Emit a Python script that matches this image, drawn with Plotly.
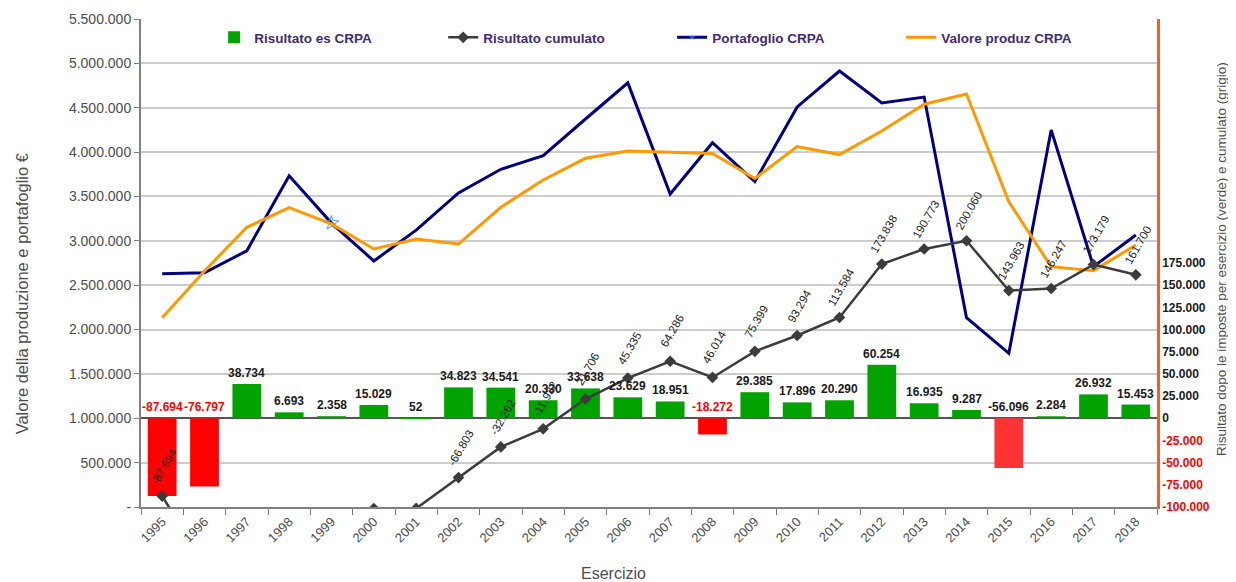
import plotly.graph_objects as go

years = ["1995", "1996", "1997", "1998", "1999", "2000", "2001", "2002", "2003", "2004", "2005", "2006",
         "2007", "2008", "2009", "2010", "2011", "2012", "2013", "2014", "2015", "2016", "2017", "2018"]
risultato = [-87694, -76797, 38734, 6693, 2358, 15029, 52, 34823, 34541, 20330, 33638, 23629,
             18951, -18272, 29385, 17896, 20290, 60254, 16935, 9287, -56096, 2284, 26932, 15453]
cumulato = [-87694, -164491, -125757, -119064, -116706, -101677, -101625, -66803, -32262, -11932, 21706, 45335,
            64286, 46014, 75399, 93294, 113584, 173838, 190773, 200060, 143963, 146247, 173179, 161700]
portafoglio = [2630000, 2640000, 2888000, 3734000, 3200000, 2773000, 3120000, 3540000, 3806000, 3960000,
               4373000, 4780000, 3528000, 4106000, 3667000, 4509000, 4914000, 4554000, 4620000, 2134000,
               1732000, 4250000, 2709000, 3066000]
valore = [2134000, 2660000, 3152000, 3374000, 3190000, 2908000, 3020000, 2964000, 3378000, 3686000,
          3930000, 4012000, 3997000, 3985000, 3703000, 4062000, 3972000, 4238000, 4540000, 4655000,
          3440000, 2709000, 2664000, 2953000]

left_ticks = [0, 500000, 1000000, 1500000, 2000000, 2500000, 3000000, 3500000, 4000000, 4500000, 5000000, 5500000]
right_ticks = [-100000, -75000, -50000, -25000, 0, 25000, 50000, 75000, 100000, 125000, 150000, 175000]

FONT = "Liberation Sans, Arial, sans-serif"
GREEN = "#00A300"
RED = "#FF0000"


def fmt(v):
    s = f"{abs(v):,}".replace(",", ".")
    return "-" + s if v < 0 else s


fig = go.Figure()

pos = [v if v >= 0 else None for v in risultato]
neg = [v if v < 0 else None for v in risultato]
neg_colors = ["#FF3333" if y == "2015" else RED for y in years]

fig.add_trace(go.Bar(x=years, y=pos, name="Risultato es CRPA", marker=dict(color=GREEN, line=dict(width=0)),
                     width=0.68, yaxis="y2"))
fig.add_trace(go.Bar(x=years, y=neg, name="neg", showlegend=False,
                     marker=dict(color=neg_colors, line=dict(width=0)), width=0.68, yaxis="y2"))
fig.add_trace(go.Scatter(x=years, y=cumulato, name="Risultato cumulato", mode="lines+markers",
                         line=dict(color="#3C3C3C", width=2.5),
                         marker=dict(symbol="diamond", size=9, color="#3C3C3C"), yaxis="y2"))
star_sizes = [11 if y == "1999" else 0 for y in years]
fig.add_trace(go.Scatter(x=years, y=portafoglio, name="Portafoglio CRPA", mode="lines+markers",
                         line=dict(color="#000080", width=3),
                         marker=dict(symbol="star-open", size=star_sizes, color="#3A8EE6",
                                     line=dict(width=1.2, color="#3A8EE6"))))
fig.add_trace(go.Scatter(x=years, y=valore, name="Valore produz CRPA", mode="lines",
                         line=dict(color="#FF9900", width=3)))

annotations = []
# bar value labels
for i, (y, v) in enumerate(zip(years, risultato)):
    col = RED if (v < 0 and y != "2015") else "#1A1A1A"
    annotations.append(dict(x=i, y=max(v, 0), xref="x", yref="y2", text="<b>" + fmt(v) + "</b>",
                            showarrow=False, yanchor="bottom", yshift=2,
                            font=dict(family=FONT, size=12, color=col)))
# cumulative labels (only for visible points)
for i, v in enumerate(cumulato):
    if v >= -100000:
        annotations.append(dict(x=i, y=v, xref="x", yref="y2", text=fmt(v), showarrow=False,
                                textangle=-60, yshift=30, xshift=2,
                                font=dict(family=FONT, size=11.5, color="#222222")))

annotations.append(dict(x=-0.117, y=0.436, xref="paper", yref="paper", showarrow=False, textangle=-90,
                        xanchor="center", yanchor="middle",
                        text="Valore della produzione e portafoglio €",
                        font=dict(family=FONT, size=16.5, color="#4D4D4D")))
annotations.append(dict(x=1.063, y=0.508, xref="paper", yref="paper", showarrow=False, textangle=-90,
                        xanchor="center", yanchor="middle",
                        text="Risultato dopo le imposte per esercizio (verde) e cumulato (grigio)",
                        font=dict(family=FONT, size=13.5, color="#4D4D4D")))
annotations.append(dict(x=0.4646, y=-0.137, xref="paper", yref="paper", showarrow=False,
                        xanchor="center", yanchor="middle",
                        text="Esercizio", font=dict(family=FONT, size=16, color="#4D4D4D")))

right_text = []
for v in right_ticks:
    c = "#FF0000" if v < 0 else "#1A1A1A"
    right_text.append(f"<span style='color:{c}'><b>{fmt(v)}</b></span>")

fig.update_layout(
    width=1228, height=574,
    margin=dict(l=133, r=79, t=11, b=75, autoexpand=False),
    paper_bgcolor="white", plot_bgcolor="white",
    barmode="overlay",
    font=dict(family=FONT, size=13, color="#404040"),
    xaxis=dict(type="category", range=[-0.5, len(years) - 0.5], autorange=False,
               tickangle=-45, tickson="boundaries", ticks="outside", ticklen=6,
               tickcolor="#808080", showline=True, linecolor="#808080", linewidth=2,
               showgrid=False, tickfont=dict(family=FONT, size=13, color="#4D4D4D")),
    yaxis=dict(range=[0, 5500000], autorange=False, tickvals=left_ticks,
               ticktext=["-"] + [fmt(v) for v in left_ticks[1:]],
               showgrid=True, gridcolor="#CCCCCC", gridwidth=2, zeroline=False,
               showline=True, linecolor="#808080", linewidth=2, ticks="outside", ticklen=5,
               tickcolor="#808080", tickfont=dict(family=FONT, size=14, color="#4D4D4D")),
    yaxis2=dict(range=[-100000, 450000], autorange=False, overlaying="y", side="right", tickvals=right_ticks,
                ticktext=right_text, showgrid=False, zeroline=True, zerolinecolor="#555555",
                zerolinewidth=1.5, showline=True, linecolor="#FF5A1F", linewidth=2.5, ticks="",
                tickfont=dict(family=FONT, size=12, color="#1A1A1A")),
    legend=dict(orientation="h", x=0.072, y=0.962, xanchor="left", yanchor="middle",
                entrywidth=184, entrywidthmode="pixels", bgcolor="rgba(0,0,0,0)",
                font=dict(family=FONT, size=13.5, color="#3F2A78", weight="bold"), itemwidth=30,
                traceorder="normal"),
    annotations=annotations,
    showlegend=True,
)

fig.write_html("out.html")
